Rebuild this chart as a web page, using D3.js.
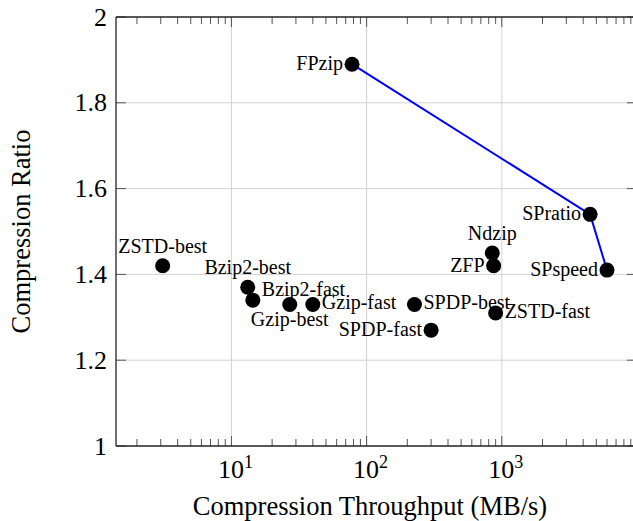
<!DOCTYPE html>
<html>
<head>
<meta charset="utf-8">
<script src="https://cdn.jsdelivr.net/npm/d3@7"></script>
<style>
  html, body { margin: 0; background: #fff; overflow: hidden; }
  svg { display: block; }
  text { font-family: "Liberation Serif", "DejaVu Serif", serif; fill: #000; }
</style>
</head>
<body>
<div id="chart"></div>
<script>
// data
const names      = ['FPzip', 'SPratio', 'SPspeed', 'Ndzip', 'ZFP', 'ZSTD-best', 'Bzip2-best', 'Bzip2-fast',
                    'Gzip-best', 'Gzip-fast', 'SPDP-best', 'SPDP-fast', 'ZSTD-fast']
const throughput = [78, 4500, 6000, 850, 870, 3.1, 13.2, 14.4, 27, 40, 226, 300, 900]
const ratio      = [1.89, 1.54, 1.41, 1.45, 1.42, 1.42, 1.37, 1.34, 1.33, 1.33, 1.33, 1.27, 1.31]
const labelAt    = ['west', 'west', 'west', 'north', 'west', 'north', 'north', 'northeast',
                    'south', 'east', 'east', 'west', 'east']
const frontier   = ['FPzip', 'SPratio', 'SPspeed']
const yTicks     = [1, 1.2, 1.4, 1.6, 1.8, 2]
const xMajor     = [10, 100, 1000]

const W = 633, H = 521
const margin = { top: 17, left: 116, bottom: 75, right: -4 }

const svg = d3.select('#chart').append('svg')
    .attr('width', W).attr('height', H)

const x = d3.scaleLog().domain([1.4, 1e4]).range([margin.left, W - margin.right])
const y = d3.scaleLinear().domain([1, 2]).range([H - margin.bottom, margin.top])
const [x0, x1] = x.range()
const [yb, yt] = y.range()

const points = names.map((n, i) => ({ name: n, t: throughput[i], r: ratio[i], at: labelAt[i] }))

// grid
const grid = svg.append('g')
grid.selectAll('.gx').data(xMajor).join('line')
    .attr('x1', d => x(d)).attr('x2', d => x(d)).attr('y1', yt).attr('y2', yb)
    .attr('stroke', '#d3d3d3').attr('stroke-width', 1)
grid.selectAll('.gy').data(yTicks.slice(1, -1)).join('line')
    .attr('y1', d => y(d)).attr('y2', d => y(d)).attr('x1', x0).attr('x2', x1)
    .attr('stroke', '#d3d3d3').attr('stroke-width', 1)

// ticks (inside, both sides)
const ticks = svg.append('g').attr('stroke', '#555').attr('stroke-width', 1)
const minor = x.ticks().filter(d => xMajor.indexOf(d) < 0 && d > 1.4 && d < 1e4)
ticks.selectAll('.mb').data(minor).join('line')
    .attr('x1', d => x(d)).attr('x2', d => x(d)).attr('y1', yb).attr('y2', yb - 7)
ticks.selectAll('.mt').data(minor).join('line')
    .attr('x1', d => x(d)).attr('x2', d => x(d)).attr('y1', yt).attr('y2', yt + 7)
ticks.selectAll('.Mb').data(xMajor).join('line')
    .attr('x1', d => x(d)).attr('x2', d => x(d)).attr('y1', yb).attr('y2', yb - 10)
ticks.selectAll('.Mt').data(xMajor).join('line')
    .attr('x1', d => x(d)).attr('x2', d => x(d)).attr('y1', yt).attr('y2', yt + 10)
ticks.selectAll('.yl').data(yTicks).join('line')
    .attr('y1', d => y(d)).attr('y2', d => y(d)).attr('x1', x0).attr('x2', x0 + 10)
ticks.selectAll('.yr').data(yTicks).join('line')
    .attr('y1', d => y(d)).attr('y2', d => y(d)).attr('x1', x1).attr('x2', x1 - 10)

// frame: left, top, bottom (right edge lies past the window)
const frame = svg.append('g').attr('stroke', '#222').attr('stroke-width', 1.3)
frame.append('line').attr('x1', x0).attr('x2', x0).attr('y1', yt).attr('y2', yb)
frame.append('line').attr('x1', x0).attr('x2', x1).attr('y1', yt).attr('y2', yt)
frame.append('line').attr('x1', x0).attr('x2', x1).attr('y1', yb).attr('y2', yb)

// tick labels
svg.append('g').selectAll('text').data(yTicks).join('text')
    .attr('x', x0 - 9).attr('y', d => y(d))
    .attr('text-anchor', 'end').attr('dominant-baseline', 'central')
    .attr('font-size', 26)
    .text(d => d3.format('~g')(d))

const xl = svg.append('g').selectAll('text').data(xMajor).join('text')
    .attr('x', d => x(d) + 4).attr('y', yb + 32)
    .attr('text-anchor', 'middle').attr('font-size', 26)
xl.append('tspan').text('10')
xl.append('tspan').attr('dy', -10).attr('font-size', 18).text(d => Math.round(Math.log10(d)))

// axis titles
svg.append('text')
    .attr('x', 370).attr('y', 515)
    .attr('text-anchor', 'middle').attr('font-size', 26.5)
    .text('Compression Throughput (MB/s)')
svg.append('text')
    .attr('transform', `translate(30, ${(yt + yb) / 2}) rotate(-90)`)
    .attr('text-anchor', 'middle').attr('font-size', 26.5)
    .text('Compression Ratio')

// pareto front
const front = frontier.map(n => points.find(p => p.name === n))
svg.append('path')
    .datum(front)
    .attr('d', d3.line().x(d => x(d.t)).y(d => y(d.r)))
    .attr('fill', 'none').attr('stroke', '#0000ff').attr('stroke-width', 2)

// labels
const anchors = {
    west:      { a: 'end',    dx: -9, dy: 6 },
    east:      { a: 'start',  dx: 9,  dy: 5 },
    north:     { a: 'middle', dx: 0,  dy: -13 },
    south:     { a: 'middle', dx: 0,  dy: 22 },
    northeast: { a: 'start',  dx: 9,  dy: -4 }
}
svg.append('g').selectAll('text').data(points).join('text')
    .attr('x', d => x(d.t) + anchors[d.at].dx)
    .attr('y', d => y(d.r) + anchors[d.at].dy)
    .attr('text-anchor', d => anchors[d.at].a)
    .attr('font-size', 20)
    .text(d => d.name)

// markers
svg.append('g').selectAll('circle').data(points).join('circle')
    .attr('cx', d => x(d.t)).attr('cy', d => y(d.r)).attr('r', 7.5)
    .attr('fill', '#000')
</script>
</body>
</html>
